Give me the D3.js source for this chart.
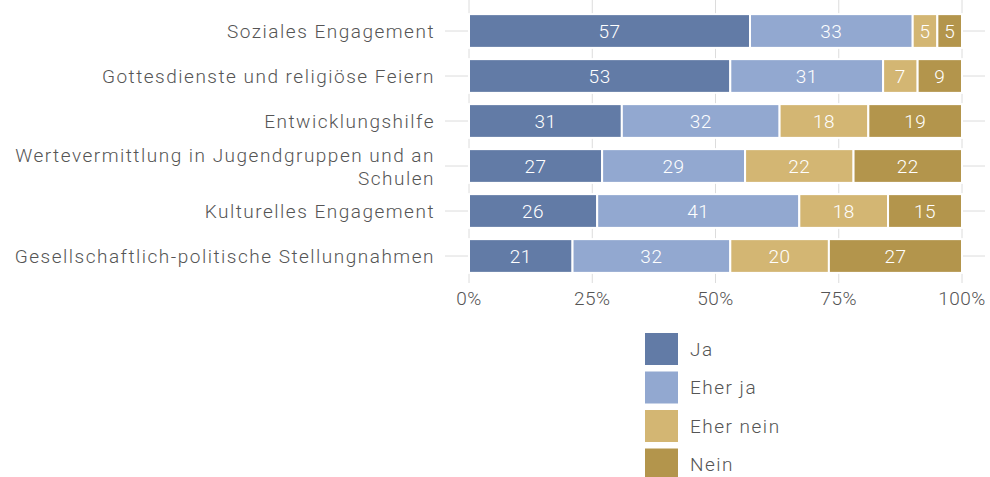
<!DOCTYPE html>
<meta charset="utf-8">
<script src="https://d3js.org/d3.v7.min.js"></script>
<style>
 body { margin: 0; background: #fff; font-family: Roboto, sans-serif; }
 .lbl { font-size: 19px; font-weight: 300; letter-spacing: 1.5px; fill: #555; }
</style>
<div id="chart"></div>
<script>
 const categories = [
   "Soziales Engagement",
   "Gottesdienste und religiöse Feiern",
   "Entwicklungshilfe",
   "Wertevermittlung in Jugendgruppen und an Schulen",
   "Kulturelles Engagement",
   "Gesellschaftlich-politische Stellungnahmen"
 ];
 const seriesNames = ["Ja", "Eher ja", "Eher nein", "Nein"];
 const ja       = [57, 53, 31, 27, 26, 21];
 const eherJa   = [33, 31, 32, 29, 41, 32];
 const eherNein = [5, 7, 18, 22, 18, 20];
 const nein     = [5, 9, 19, 22, 15, 27];
 const xTicks = [0, 25, 50, 75, 100];
 const colors = ["#627ba6", "#92a8d0", "#d3b673", "#b3954c"];

 const rows = categories.map((c, i) => ({
   cat: c, "Ja": ja[i], "Eher ja": eherJa[i], "Eher nein": eherNein[i], "Nein": nein[i]
 }));

 const W = 990, H = 477;
 const svg = d3.select("#chart").append("svg").attr("width", W).attr("height", H);

 const x = d3.scaleLinear().domain([0, 100]).range([469, 962]);
 const y = d3.scaleBand().domain(categories).range([8.5, 278.5]).paddingInner(0.25).paddingOuter(0.125);
 const color = d3.scaleOrdinal().domain(seriesNames).range(colors);

 // grid
 svg.append("g").selectAll("line").data(xTicks).join("line")
   .attr("x1", d => x(d)).attr("x2", d => x(d))
   .attr("y1", 0).attr("y2", 283)
   .attr("stroke", "#dcdcdc").attr("stroke-width", 1);
 svg.append("g").selectAll("line").data(categories).join("line")
   .attr("x1", 445).attr("x2", 985)
   .attr("y1", d => y(d) + y.bandwidth() / 2).attr("y2", d => y(d) + y.bandwidth() / 2)
   .attr("stroke", "#dcdcdc").attr("stroke-width", 1);

 const stacked = d3.stack().keys(seriesNames)(rows);

 const groups = svg.append("g").selectAll("g").data(stacked).join("g")
   .attr("fill", d => color(d.key));
 groups.selectAll("rect").data(d => d).join("rect")
   .attr("x", d => x(d[0]))
   .attr("y", d => y(d.data.cat))
   .attr("width", d => x(d[1]) - x(d[0]))
   .attr("height", y.bandwidth())
   .attr("stroke", "#fff").attr("stroke-width", 2);
 groups.selectAll("text").data(d => d).join("text")
   .attr("x", d => (x(d[0]) + x(d[1])) / 2)
   .attr("y", d => y(d.data.cat) + y.bandwidth() / 2)
   .attr("dy", "0.36em")
   .attr("text-anchor", "middle")
   .attr("fill", "#fff")
   .style("font-size", "19px")
   .style("font-weight", 300)
   .style("letter-spacing", "0.5px")
   .text(d => d[1] - d[0]);

 // category labels
 const lab = svg.append("g").selectAll("text").data(categories).join("text")
   .attr("class", "lbl")
   .attr("x", 435)
   .attr("y", d => y(d) + y.bandwidth() / 2)
   .attr("text-anchor", "end");
 lab.each(function(d) {
   const t = d3.select(this);
   if (d.startsWith("Wertevermittlung")) {
     t.append("tspan").attr("x", 435).attr("dy", "-0.22em").text("Wertevermittlung in Jugendgruppen und an");
     t.append("tspan").attr("x", 435).attr("dy", "1.2em").text("Schulen");
   } else {
     t.append("tspan").attr("dy", "0.36em").text(d);
   }
 });

 // x tick labels
 svg.append("g").selectAll("text").data(xTicks).join("text")
   .attr("class", "lbl")
   .attr("x", d => x(d)).attr("y", 305)
   .attr("text-anchor", "middle")
   .style("letter-spacing", "0.5px")
   .attr("fill", "#666")
   .text(d => d + "%");

 // legend
 const leg = svg.append("g").selectAll("g").data(seriesNames).join("g")
   .attr("transform", (d, i) => `translate(645,${333 + i * 38.5})`);
 leg.append("rect").attr("width", 33).attr("height", 32).attr("fill", d => color(d));
 leg.append("text").attr("class", "lbl").attr("x", 45).attr("y", 16).attr("dy", "0.36em")
   .text(d => d);
</script>
